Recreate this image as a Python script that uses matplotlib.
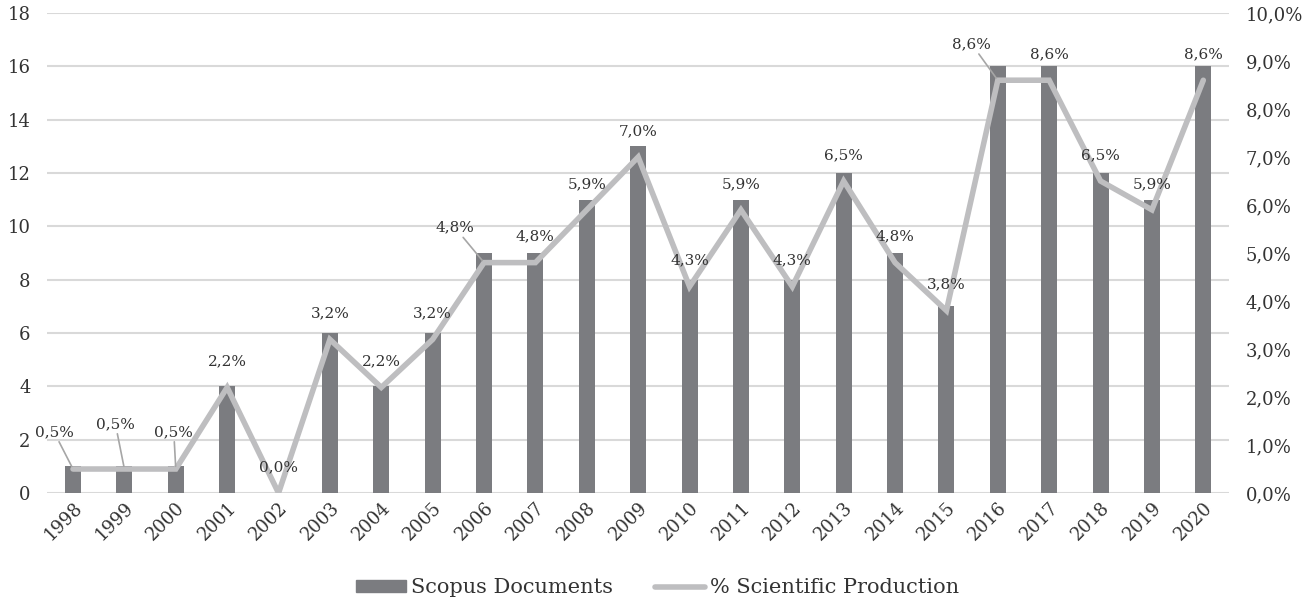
import numpy as np
import matplotlib.pyplot as plt
from matplotlib.patches import Patch
from matplotlib.lines import Line2D

# data
years = [str(y) for y in range(1998, 2021)]
documents = [1, 1, 1, 4, 0, 6, 4, 6, 9, 9, 11, 13, 8, 11, 8, 12, 9, 7, 16, 16, 12, 11, 16]
percent = [0.5, 0.5, 0.5, 2.2, 0.0, 3.2, 2.2, 3.2, 4.8, 4.8, 5.9, 7.0, 4.3, 5.9, 4.3,
           6.5, 4.8, 3.8, 8.6, 8.6, 6.5, 5.9, 8.6]

# label offsets in pixels (dx, dy); others go straight above the point
label_offsets = {'1998': (-19, 37), '1999': (-9, 45), '2000': (-2, 37),
                 '2006': (-29, 35), '2016': (-26, 36)}
leader = {'1998', '1999', '2000', '2006', '2016'}

plt.rcParams['font.family'] = ['DejaVu Serif']
txt = '#333333'
bar_col = '#7b7c80'
line_col = '#bebec0'

fig = plt.figure(figsize=(13.15, 6.03), dpi=100)
ax = fig.add_axes([0.036, 0.1824, 0.8986, 0.796])
x = np.arange(len(years))

ax.bar(x, documents, width=0.31, color=bar_col, zorder=2)
ax.set_ylim(0, 18)
ax.set_yticks(range(0, 19, 2))
ax.set_xlim(-0.5, len(years) - 0.5)
ax.set_xticks(x)
ax.set_xticklabels(years, rotation=45, ha='right', rotation_mode='anchor')
ax.grid(axis='y', color='#d9d9d9', linewidth=1.5, zorder=0)
ax.set_axisbelow(True)
for s in ax.spines.values():
    s.set_visible(False)
ax.tick_params(length=0, labelsize=13, colors=txt)
ax.tick_params(axis='y', pad=12)
ax.tick_params(axis='x', pad=4)

ax2 = ax.twinx()
pct = np.array(percent) / 100
ax2.plot(x, pct, color=line_col, linewidth=4, solid_capstyle='round',
         solid_joinstyle='miter', zorder=3)
ax2.set_ylim(0, 0.10)
ax2.set_yticks(np.arange(0, 0.101, 0.01))
ax2.set_yticklabels([f'{v:.1f}%'.replace('.', ',') for v in np.arange(0, 10.1, 1)])
for s in ax2.spines.values():
    s.set_visible(False)
ax2.tick_params(length=0, labelsize=13, colors=txt, pad=12)

for i, (yr, p) in enumerate(zip(years, percent)):
    dx, dy = label_offsets.get(yr, (0, 26))
    lab = f'{p:.1f}%'.replace('.', ',')
    kw = {}
    if yr in leader:
        kw['arrowprops'] = dict(arrowstyle='-', color='#a6a6a6', lw=1.2,
                                shrinkA=0, shrinkB=2)
    ax2.annotate(lab, (i, p / 100), xytext=(dx, dy), textcoords='offset pixels',
                 ha='center', va='center', fontsize=11, color=txt, zorder=4, **kw)

handles = [Patch(color=bar_col, label='Scopus Documents'),
           Line2D([], [], color=line_col, linewidth=4, solid_capstyle='round',
                  label='% Scientific Production')]
fig.legend(handles=handles, loc='center', bbox_to_anchor=(0.5, 0.025), ncol=2,
           frameon=False, fontsize=15, handlelength=2.4, handleheight=0.55,
           columnspacing=2, handletextpad=0.25, labelcolor=txt)

fig.savefig('out.png', dpi=100)
